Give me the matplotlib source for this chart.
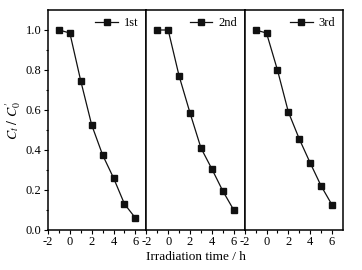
import numpy as np
import matplotlib.pyplot as plt

plt.rcParams['font.family'] = 'Liberation Serif'
plt.rcParams['mathtext.fontset'] = 'stix'
plt.rcParams['axes.unicode_minus'] = False

# data
time_h = [-1, 0, 1, 2, 3, 4, 5, 6]
run_1st = [1.0, 0.985, 0.745, 0.525, 0.375, 0.26, 0.13, 0.06]
run_2nd = [1.0, 1.0, 0.77, 0.585, 0.41, 0.305, 0.195, 0.10]
run_3rd = [1.0, 0.985, 0.80, 0.59, 0.455, 0.335, 0.22, 0.125]
runs = [run_1st, run_2nd, run_3rd]
labels = ['1st', '2nd', '3rd']

fig = plt.figure(figsize=(3.62, 2.70), dpi=100)
left, right, bottom, top = 48 / 362, 343 / 362, 1 - 230 / 270, 1 - 10 / 270
w = (right - left) / 3

for i in range(3):
    ax = fig.add_axes([left + i * w, bottom, w, top - bottom])
    ax.plot(time_h, runs[i], color='#111111', lw=0.9, marker='s', ms=4.5,
            label=labels[i])
    ax.set_xlim(-2, 7)
    ax.set_ylim(0, 1.1)
    ax.set_xticks([-2, 0, 2, 4, 6])
    ax.set_xticks([-1, 1, 3, 5], minor=True)
    ax.tick_params(axis='both', which='major', direction='out', length=3,
                   width=0.8, labelsize=9, pad=1.5)
    ax.tick_params(axis='both', which='minor', direction='out', length=1.8,
                   width=0.8)
    ax.set_yticks(np.arange(0, 1.01, 0.2))
    ax.set_yticks(np.arange(0.1, 1.1, 0.2), minor=True)
    if i == 0:
        ax.set_yticklabels(['%.1f' % v for v in np.arange(0, 1.01, 0.2)])
        ax.set_ylabel(r"$C_t\ /\ C_0^{\,\prime}$", fontsize=10, labelpad=2)
    else:
        ax.tick_params(axis='y', which='both', left=False, labelleft=False)
    for s in ax.spines.values():
        s.set_linewidth(1.1)
    ax.legend(loc='upper right', frameon=False, fontsize=9, handlelength=1.8,
              borderaxespad=0.2, handletextpad=0.5)

fig.text((left + right) / 2, 0.025, 'Irradiation time / h', ha='center',
         va='bottom', fontsize=9.5)

plt.savefig('out.png', dpi=100)
